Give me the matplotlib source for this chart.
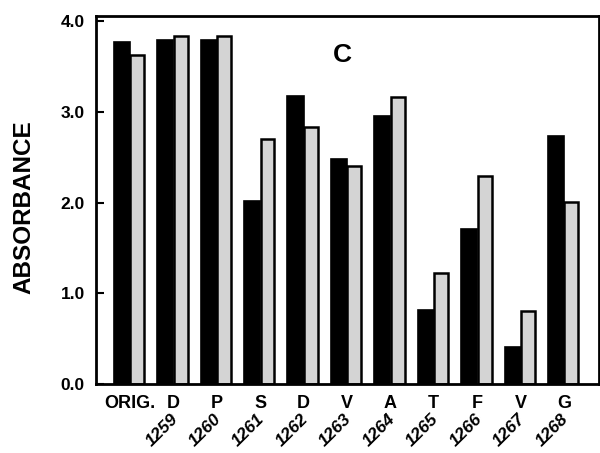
import matplotlib.pyplot as plt
import numpy as np

# Data
letters = ["ORIG.", "D", "P", "S", "D", "V", "A", "T", "F", "V", "G"]
positions = ["", "1259", "1260", "1261", "1262", "1263", "1264", "1265", "1266", "1267", "1268"]
black_vals = [3.77, 3.79, 3.79, 2.02, 3.18, 2.48, 2.96, 0.82, 1.71, 0.41, 2.74]
gray_vals = [3.63, 3.84, 3.84, 2.70, 2.84, 2.40, 3.16, 1.23, 2.29, 0.81, 2.01]
yticks = [0.0, 1.0, 2.0, 3.0, 4.0]

plt.rcParams["font.family"] = ["Liberation Sans", "DejaVu Sans"]
plt.rcParams["font.weight"] = "bold"

fig = plt.figure(figsize=(6, 4.53), dpi=100)
ax = fig.add_axes([0.16, 0.152, 0.838, 0.813])

x = np.arange(len(letters))
ax.bar(x - 0.185, black_vals, width=0.37, color="black", edgecolor="black", linewidth=1.2)
ax.bar(x + 0.17, gray_vals, width=0.32, color="#d4d4d4", edgecolor="black", linewidth=1.8)

ax.set_xlim(-0.78, 10.8)
ax.set_ylim(0, 4.06)

ax.set_yticks(yticks)
ax.set_yticklabels(["%.1f" % v for v in yticks], fontsize=12.5, fontweight="bold")
ax.tick_params(axis="y", direction="in", length=6, width=1.5, pad=8)

ax.set_xticks(x)
ax.set_xticklabels(letters, fontsize=13, fontweight="bold")
ax.tick_params(axis="x", length=0, pad=8)

for i, p in enumerate(positions):
    if p:
        ax.text(i + 0.17, -0.075, p, transform=ax.get_xaxis_transform(),
                rotation=45, ha="right", va="top", fontsize=12.5,
                fontweight="bold", fontstyle="italic")

for s in ax.spines.values():
    s.set_linewidth(2)

ax.text(4.9, 3.63, "C", fontsize=19, fontweight="bold", ha="center", va="center")

ax.set_ylabel("ABSORBANCE", fontsize=17.5, fontweight="bold")
ax.yaxis.set_label_coords(-0.12, 0.48)

fig.savefig("out.png", dpi=100)
